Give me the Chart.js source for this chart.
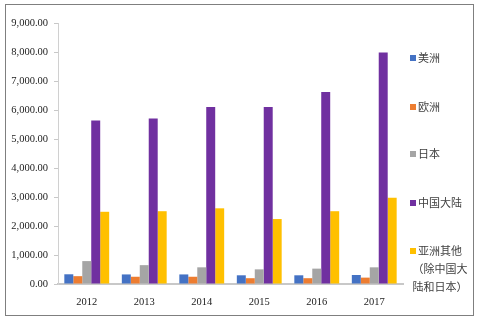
<!DOCTYPE html>
<html>
<head>
<meta charset="utf-8">
<script src="https://cdn.jsdelivr.net/npm/chart.js@4"></script>
<style>
  html, body { margin: 0; padding: 0; background: #fff; }
  #wrap { position: relative; width: 479px; height: 321px; }
  #frame { position: absolute; left: 5px; top: 4px; width: 469px; height: 312px; border: 1px solid #7f7f7f; box-sizing: border-box; pointer-events: none; }
  #legend { position: absolute; left: 410px; top: 0; list-style: none; margin: 0; padding: 0;
            font: 11px "Noto Sans CJK SC", sans-serif; color: #404040; }
  #legend li { position: absolute; left: 0; white-space: pre; line-height: 18px; }
  #legend i { display: inline-block; width: 6px; height: 6px; margin-right: 2px; vertical-align: 1px; }
</style>
</head>
<body>
<div id="wrap">
  <canvas id="chart" width="479" height="321"></canvas>
  <ul id="legend"></ul>
  <div id="frame"></div>
</div>
<script>
  "use strict";

  /* ---------------------------------------------------------------
   * Data
   * --------------------------------------------------------------- */
  const years = ["2012", "2013", "2014", "2015", "2016", "2017"];
  const seriesNames = ["美洲", "欧洲", "日本", "中国大陆", "亚洲其他\n（除中国大\n陆和日本）"];
  const seriesColors = ["#4472C4", "#ED7D31", "#A5A5A5", "#7030A0", "#FFC000"];

  const americas = [335, 330, 330, 300, 300, 310];
  const europe = [270, 250, 250, 200, 200, 220];
  const japan = [790, 650, 575, 505, 530, 575];
  const mainland = [5640, 5710, 6100, 6100, 6620, 7980];
  const otherAsia = [2490, 2510, 2610, 2240, 2510, 2975];
  const seriesValues = [americas, europe, japan, mainland, otherAsia];

  const yTicksMax = 9000;
  const yTicksStep = 1000;

  const fmt = (v) =>
    new Intl.NumberFormat("en-US", { minimumFractionDigits: 2, maximumFractionDigits: 2 }).format(v);

  /* ---------------------------------------------------------------
   * Legend (HTML, right side)
   * --------------------------------------------------------------- */
  const legendTops = [48, 97, 144, 193, 241];
  document.getElementById("legend").innerHTML = seriesNames.map((name, i) =>
    `<li style="top:${legendTops[i]}px"><i style="background:${seriesColors[i]}"></i>${name.replace(/\n/g, "\n ")}</li>`
  ).join("");

  /* ---------------------------------------------------------------
   * Chart
   * --------------------------------------------------------------- */
  const tickFont = { family: "'Liberation Serif', 'Times New Roman', serif", size: 10.5 };

  new Chart(document.getElementById("chart"), {
    type: "bar",
    data: {
      labels: years,
      datasets: seriesNames.map((name, i) => ({
        label: name,
        data: seriesValues[i],
        backgroundColor: seriesColors[i],
        borderWidth: 0,
        barPercentage: 1,
        categoryPercentage: 0.78
      }))
    },
    options: {
      responsive: false,
      animation: false,
      layout: { padding: { left: 5, right: 76, top: 23, bottom: 0 } },
      plugins: { legend: { display: false }, tooltip: { enabled: false } },
      scales: {
        x: {
          afterFit: (s) => { s.height = 37; },
          grid: { display: false },
          border: { color: "#c8c8c8", width: 2 },
          ticks: { color: "#222", font: tickFont, padding: 4 }
        },
        y: {
          min: 0,
          max: yTicksMax,
          afterFit: (s) => { s.width = 53; },
          grid: { drawOnChartArea: false, tickLength: 4, color: "#c8c8c8" },
          border: { color: "#d0d0d0", width: 1 },
          ticks: { stepSize: yTicksStep, color: "#222", font: tickFont, padding: 6, callback: (v) => fmt(v) }
        }
      }
    }
  });
</script>
</body>
</html>
